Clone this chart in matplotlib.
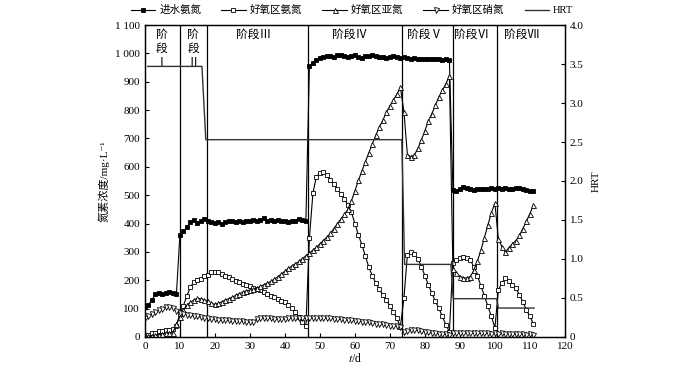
import matplotlib
matplotlib.use('Agg')
import matplotlib.pyplot as plt
import numpy as np
from matplotlib.ticker import FuncFormatter, MultipleLocator

plt.rcParams['font.family'] = ['Liberation Serif', 'Noto Sans CJK SC', 'DejaVu Sans']
plt.rcParams['mathtext.fontset'] = 'stix'

days = np.arange(0, 112)

# 进水氨氮
influent_nh4 = ([105, 113, 130, 150, 155, 152, 155, 160, 156, 150] +
                [360, 372, 388, 405, 412, 402, 410, 415] +
                [410, 406, 402, 405, 400, 404, 408, 410, 406, 410, 405, 410, 408, 412, 410,
                 414, 418, 410, 412, 410, 412, 410, 410, 405, 408, 410, 415, 412, 410] +
                [955, 968, 978, 985, 988, 990, 992, 988, 993, 996, 990, 986, 990, 993, 988,
                 985, 990, 992, 996, 990, 986, 988, 984, 986, 990, 987, 985] +
                [986, 984, 982, 984, 982, 980, 982, 980, 981, 979, 980, 978, 979, 977] +
                [518, 516, 522, 530, 526, 520, 518, 520, 522, 520, 522, 524, 522] +
                [524, 522, 524, 522, 520, 524, 526, 522, 518, 516, 516])

# 好氧区氨氮
aerobic_nh4 = ([5, 8, 12, 15, 20, 22, 25, 26, 28, 40] +
               [82, 110, 145, 175, 195, 200, 205, 215] +
               [220, 228, 230, 228, 222, 216, 210, 205, 198, 192, 188, 182, 178, 172, 168,
                164, 158, 152, 146, 140, 134, 128, 122, 112, 102, 88, 70, 54, 38] +
               [348, 507, 565, 578, 582, 570, 555, 539, 521, 505, 488, 465, 440, 400, 360,
                325, 285, 245, 215, 190, 168, 148, 130, 108, 88, 65, 36] +
               [136, 289, 301, 293, 275, 248, 216, 183, 154, 125, 101, 72, 42, 19] +
               [262, 271, 279, 281, 280, 271, 246, 215, 180, 145, 108, 72, 32] +
               [166, 189, 207, 197, 183, 172, 148, 124, 95, 72, 46])

# 好氧区亚氮
aerobic_no2 = ([2, 3, 4, 6, 8, 10, 12, 12, 15, 45] +
               [70, 95, 112, 122, 130, 136, 134, 130] +
               [125, 118, 115, 118, 124, 130, 135, 140, 147, 152, 158, 162, 165, 168, 172,
                178, 184, 190, 196, 204, 212, 222, 232, 242, 250, 258, 266, 276, 286] +
               [296, 306, 316, 328, 340, 352, 366, 382, 400, 416, 432, 450, 480, 515, 552,
                585, 618, 650, 682, 712, 740, 765, 792, 815, 836, 856, 880] +
               [795, 642, 636, 642, 665, 695, 727, 762, 788, 817, 847, 870, 893, 922] +
               [240, 225, 213, 208, 208, 213, 235, 268, 305, 350, 395, 438, 472] +
               [345, 318, 298, 315, 328, 340, 358, 382, 408, 435, 465])

# 好氧区硝氮
aerobic_no3 = ([66, 75, 82, 88, 95, 100, 106, 105, 102, 92] +
               [85, 82, 79, 76, 74, 72, 70, 68] +
               [66, 64, 62, 60, 59, 58, 58, 57, 56, 55, 55, 54, 53, 52, 64,
                67, 67, 66, 65, 64, 63, 63, 64, 65, 66, 66, 65, 65, 66] +
               [68, 68, 67, 67, 66, 66, 65, 64, 63, 62, 61, 60, 58, 57, 56,
                54, 52, 51, 49, 47, 45, 44, 42, 40, 38, 37, 36] +
               [18, 20, 24, 25, 23, 20, 18, 16, 14, 12, 11, 10, 9, 8] +
               [12, 14, 12, 13, 15, 12, 14, 13, 12, 14, 12, 11, 12] +
               [11, 12, 10, 11, 10, 9, 10, 9, 8, 9, 8])

hrt_days = [0.8, 16.3, 17.4, 73.4, 74.2, 87.4, 88.1, 100.5, 101.0, 111.2]
hrt_values = [3.47, 3.47, 2.53, 2.53, 0.93, 0.93, 0.49, 0.49, 0.37, 0.37]

stage_edges = [10, 17.7, 46.7, 73.4, 88.1, 100.7]
stage_labels = ['阶\n段\nⅠ', '阶\n段\nⅡ', '阶段Ⅲ', '阶段Ⅳ', '阶段Ⅴ', '阶段Ⅵ', '阶段Ⅶ']
stage_label_x = [4.8, 13.8, 31.1, 58.5, 80.0, 93.3, 107.5]

fig = plt.figure(figsize=(7.0, 3.69), dpi=100)
ax = fig.add_axes([0.207, 0.087, 0.600, 0.845])
ax2 = ax.twinx()

for x in stage_edges:
    ax.axvline(x, color='black', lw=0.9, zorder=1)

ms = 3.2
mew = 0.6
l1, = ax.plot(days, influent_nh4, '-s', color='black', lw=0.8, ms=ms, mew=mew,
              mfc='black', label='进水氨氮', zorder=3)
l2, = ax.plot(days, aerobic_nh4, '-s', color='black', lw=0.8, ms=ms, mew=mew,
              mfc='white', label='好氧区氨氮', zorder=3)
l3, = ax.plot(days, aerobic_no2, '-^', color='black', lw=0.8, ms=ms + 0.4, mew=mew,
              mfc='white', label='好氧区亚氮', zorder=3)
l4, = ax.plot(days, aerobic_no3, '-v', color='black', lw=0.8, ms=ms + 0.4, mew=mew,
              mfc='white', label='好氧区硝氮', zorder=3)
l5, = ax2.plot(hrt_days, hrt_values, '-', color='#333333', lw=1.0, label='HRT', zorder=2)

for lab, x in zip(stage_labels, stage_label_x):
    ax.text(x, 1088, lab, ha='center', va='top', fontsize=8.5, linespacing=1.25)

ax.set_xlim(0, 120)
ax.set_ylim(0, 1100)
ax2.set_ylim(0, 4.0)
ax.xaxis.set_major_locator(MultipleLocator(10))
ax.yaxis.set_major_locator(MultipleLocator(100))
ax2.yaxis.set_major_locator(MultipleLocator(0.5))
ax.yaxis.set_major_formatter(FuncFormatter(lambda v, p: f'{int(round(v)):,}'.replace(',', ' ')))
ax2.yaxis.set_major_formatter(FuncFormatter(lambda v, p: '0' if v == 0 else f'{v:.1f}'))

for a in (ax, ax2):
    a.tick_params(direction='in', length=3, width=0.8, labelsize=8)
    for s in a.spines.values():
        s.set_linewidth(0.9)

ax.set_xlabel('$t$/d', fontsize=8.5, labelpad=1)
ax.set_ylabel('氮素浓度/mg·L⁻¹', fontsize=8, labelpad=4)
ax2.set_ylabel('HRT', fontsize=8, labelpad=6)

fig.legend(handles=[l1, l2, l3, l4, l5], loc='center', bbox_to_anchor=(0.503, 0.972),
           ncol=5, frameon=False, fontsize=7.6, handlelength=2.3, columnspacing=1.9,
           handletextpad=0.4)

fig.savefig('out.png', dpi=100)
